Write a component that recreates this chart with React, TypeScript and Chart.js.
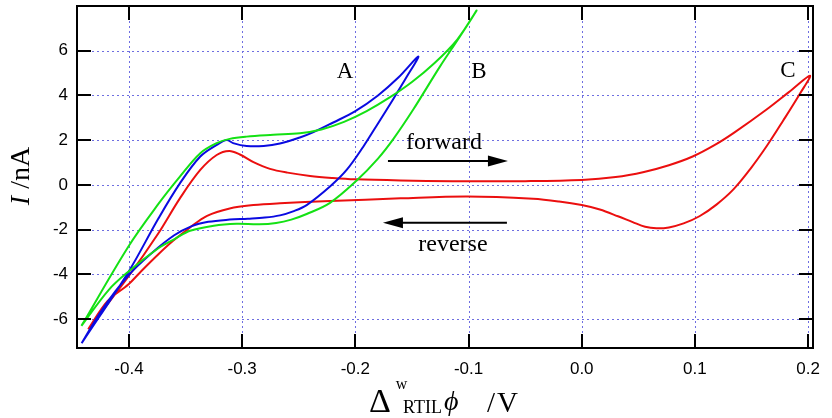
import { useEffect, useRef } from "react";
import { Chart, registerables } from "chart.js";

Chart.register(...registerables);

// Axis ticks
const potentialTicks = [-0.4, -0.3, -0.2, -0.1, 0.0, 0.1, 0.2];
const currentTicks = [-6, -4, -2, 0, 2, 4, 6];

// Scan A (blue): forward to the switching potential, then reverse
const scanA_E = [
  -0.4418, -0.4006, -0.374, -0.355, -0.337, -0.3225, -0.3137, -0.308, -0.296, -0.281, -0.2666, -0.249,
  -0.237, -0.22, -0.2, -0.18, -0.162, -0.1444,
  -0.155, -0.167, -0.18, -0.193, -0.2077, -0.2224, -0.243, -0.255, -0.2666, -0.28, -0.295, -0.311,
  -0.33, -0.345, -0.36, -0.38, -0.4006, -0.424, -0.4418,
];
const scanA_I = [
  -7.08, -3.9, -1.5, 0.07, 1.27, 1.79, 2.01, 1.87, 1.74, 1.74, 1.85, 2.12,
  2.36, 2.78, 3.3, 4.0, 4.8, 5.74,
  4.8, 3.8, 2.75, 1.71, 0.67, -0.07, -0.9, -1.18, -1.36, -1.46, -1.51, -1.55,
  -1.65, -1.85, -2.25, -3.05, -4.05, -5.6, -7.08,
];

// Scan B (green)
const scanB_E = [
  -0.442, -0.4006, -0.374, -0.355, -0.337, -0.3225, -0.311, -0.296, -0.2725, -0.249, -0.23, -0.21,
  -0.19, -0.17, -0.15, -0.13, -0.11, -0.0929,
  -0.1076, -0.1253, -0.149, -0.1665, -0.18, -0.1988, -0.2224, -0.243, -0.2566, -0.27, -0.285, -0.305,
  -0.325, -0.346, -0.359, -0.374, -0.4006, -0.418, -0.442,
];
const scanB_I = [
  -6.3, -2.76, -0.85, 0.37, 1.42, 1.87, 2.06, 2.16, 2.24, 2.31, 2.48, 2.82,
  3.3, 3.9, 4.6, 5.45, 6.5, 7.8,
  6.64, 5.29, 3.36, 2.05, 1.18, 0.2, -0.8, -1.3, -1.55, -1.7, -1.76, -1.74,
  -1.82, -2.05, -2.4, -2.83, -3.88, -4.7, -6.3,
];

// Scan C (red)
const scanC_E = [
  -0.436, -0.4006, -0.374, -0.355, -0.337, -0.3225, -0.3114, -0.302, -0.29, -0.2754, -0.26, -0.24,
  -0.22, -0.2, -0.16, -0.114, -0.05, 0.0, 0.03, 0.055, 0.077, 0.098, 0.118, 0.135, 0.163, 0.183, 0.2016,
  0.193, 0.178, 0.1636, 0.149, 0.134, 0.119, 0.104, 0.09, 0.077, 0.066, 0.056, 0.045, 0.032, 0.016, 0.0,
  -0.02, -0.043, -0.101, -0.16, -0.2224, -0.2666, -0.29, -0.311, -0.331, -0.346, -0.361, -0.374, -0.39,
  -0.4006, -0.419, -0.436,
];
const scanC_I = [
  -6.45, -4.1, -2.16, -0.6, 0.67, 1.34, 1.52, 1.36, 1.02, 0.72, 0.55, 0.4,
  0.31, 0.25, 0.2, 0.17, 0.17, 0.22, 0.35, 0.58, 0.88, 1.27, 1.8, 2.35, 3.36, 4.15, 4.88,
  4.1, 2.88, 1.75, 0.72, -0.2, -0.88, -1.4, -1.72, -1.9, -1.94, -1.87, -1.66, -1.4, -1.1, -0.9,
  -0.74, -0.62, -0.52, -0.6, -0.72, -0.82, -0.9, -1.05, -1.38, -1.9, -2.5, -3.1, -3.9,
  -4.45, -5.2, -6.45,
];

// Text labels placed in data coordinates
const curveLabels = [
  { text: "A", E: -0.2092, I: 5.05 },
  { text: "B", E: -0.0908, I: 5.05 },
  { text: "C", E: 0.1822, I: 5.1 },
  { text: "forward", E: -0.1217, I: 1.9 },
  { text: "reverse", E: -0.1138, I: -2.68 },
];
// Scan direction arrows: [E from, E to, I]
const forwardArrow = [-0.1712, -0.0652, 1.07];
const reverseArrow = [-0.0661, -0.1756, -1.69];

const SERIF = '"Liberation Serif", "Times New Roman", serif';
const SANS = '"Liberation Sans", Arial, sans-serif';

const toPoints = (E: number[], I: number[]) => E.map((e, i) => ({ x: e, y: I[i] }));

const gridPlugin = {
  id: "dottedGrid",
  beforeDatasetsDraw(chart: any) {
    const { ctx, chartArea, scales } = chart;
    const { left, right, top, bottom } = chartArea;
    ctx.save();
    ctx.strokeStyle = "rgb(110,110,225)";
    ctx.lineWidth = 1;
    ctx.setLineDash([2, 3]);
    ctx.beginPath();
    for (const v of potentialTicks) {
      const px = Math.round(scales.x.getPixelForValue(v)) + 0.5;
      ctx.moveTo(px, top);
      ctx.lineTo(px, bottom);
    }
    for (const v of currentTicks) {
      const py = Math.round(scales.y.getPixelForValue(v)) + 0.5;
      ctx.moveTo(left, py);
      ctx.lineTo(right, py);
    }
    ctx.stroke();
    ctx.restore();
  },
};

function drawArrow(ctx: CanvasRenderingContext2D, x1: number, x2: number, y: number) {
  const dir = Math.sign(x2 - x1);
  const headLen = 20;
  ctx.beginPath();
  ctx.moveTo(x1, y);
  ctx.lineTo(x2 - dir * headLen * 0.8, y);
  ctx.stroke();
  ctx.beginPath();
  ctx.moveTo(x2, y);
  ctx.lineTo(x2 - dir * headLen, y - 5.5);
  ctx.lineTo(x2 - dir * headLen, y + 5.5);
  ctx.closePath();
  ctx.fill();
}

const framePlugin = {
  id: "frameAndText",
  afterDraw(chart: any) {
    const { ctx, chartArea, scales } = chart;
    const { left, right, top, bottom } = chartArea;
    const sx = scales.x;
    const sy = scales.y;
    ctx.save();
    ctx.strokeStyle = "#000";
    ctx.fillStyle = "#000";
    ctx.lineWidth = 2;
    ctx.setLineDash([]);
    ctx.strokeRect(left, top, right - left, bottom - top);

    // inward ticks on all four sides
    const len = 14;
    ctx.beginPath();
    for (const v of potentialTicks) {
      const px = Math.round(sx.getPixelForValue(v));
      ctx.moveTo(px, bottom);
      ctx.lineTo(px, bottom - len);
      ctx.moveTo(px, top);
      ctx.lineTo(px, top + len);
    }
    for (const v of currentTicks) {
      const py = Math.round(sy.getPixelForValue(v));
      ctx.moveTo(left, py);
      ctx.lineTo(left + len, py);
      ctx.moveTo(right, py);
      ctx.lineTo(right - len, py);
    }
    ctx.stroke();

    // curve labels
    ctx.textAlign = "center";
    ctx.textBaseline = "middle";
    for (const l of curveLabels) {
      ctx.font = l.text.length > 1 ? `24px ${SERIF}` : `23px ${SERIF}`;
      ctx.fillText(l.text, sx.getPixelForValue(l.E), sy.getPixelForValue(l.I));
    }

    // direction arrows
    ctx.lineWidth = 2;
    drawArrow(ctx, sx.getPixelForValue(forwardArrow[0]), sx.getPixelForValue(forwardArrow[1]), sy.getPixelForValue(forwardArrow[2]));
    drawArrow(ctx, sx.getPixelForValue(reverseArrow[0]), sx.getPixelForValue(reverseArrow[1]), sy.getPixelForValue(reverseArrow[2]));

    // x-axis title: Δ^w_RTIL ϕ / V
    ctx.textAlign = "left";
    ctx.textBaseline = "alphabetic";
    const base = 412;
    let cx = 369;
    ctx.font = `34px ${SERIF}`;
    ctx.fillText("Δ", cx, base);
    cx += ctx.measureText("Δ").width + 5;
    ctx.font = `16px ${SERIF}`;
    ctx.fillText("w", cx, base - 23);
    cx = 403;
    ctx.font = `18px ${SERIF}`;
    ctx.fillText("RTIL", cx, base + 1);
    cx += ctx.measureText("RTIL").width + 2;
    ctx.font = `italic 28px ${SERIF}`;
    ctx.fillText("ϕ", cx, base - 2);
    cx = 487;
    ctx.font = `29px ${SERIF}`;
    ctx.fillText("/", cx, base);
    cx += ctx.measureText("/").width + 2;
    ctx.fillText("V", cx, base);

    // y-axis title: I /nA
    ctx.translate(29, 176);
    ctx.rotate(-Math.PI / 2);
    const fs = 28;
    ctx.font = `italic ${fs}px ${SERIF}`;
    const wI = ctx.measureText("I").width;
    ctx.font = `${fs}px ${SERIF}`;
    const rest = " /nA";
    const wR = ctx.measureText(rest).width;
    const start = -(wI + wR) / 2;
    ctx.font = `italic ${fs}px ${SERIF}`;
    ctx.fillText("I", start, 0);
    ctx.font = `${fs}px ${SERIF}`;
    ctx.fillText(rest, start + wI, 0);

    ctx.restore();
  },
};

export default function App() {
  const canvasRef = useRef<HTMLCanvasElement | null>(null);

  useEffect(() => {
    const canvas = canvasRef.current;
    if (!canvas) return;
    const line = (E: number[], I: number[], color: string) => ({
      data: toPoints(E, I),
      borderColor: color,
      backgroundColor: color,
      borderWidth: 2,
      pointRadius: 0,
      showLine: true,
      tension: 0.35,
      fill: false,
    });
    const chart = new Chart(canvas, {
      type: "scatter",
      data: {
        datasets: [
          line(scanB_E, scanB_I, "rgb(20,225,20)"),
          line(scanA_E, scanA_I, "rgb(10,10,225)"),
          line(scanC_E, scanC_I, "rgb(235,15,15)"),
        ],
      },
      options: {
        responsive: false,
        animation: false,
        events: [],
        layout: { padding: { left: 0, right: 19, top: 6, bottom: 0 } },
        plugins: { legend: { display: false }, tooltip: { enabled: false }, title: { display: false } },
        scales: {
          x: {
            type: "linear",
            min: -0.4459,
            max: 0.2043,
            afterBuildTicks: (s: any) => {
              s.ticks = potentialTicks.map((v) => ({ value: v }));
            },
            afterFit: (s: any) => {
              s.height = 70;
              s.paddingLeft = 0;
              s.paddingRight = 0;
            },
            grid: { display: false, drawTicks: false },
            border: { display: false },
            ticks: {
              padding: 11,
              color: "#000",
              font: { family: SANS, size: 17 },
              maxRotation: 0,
              autoSkip: false,
              callback: (v: any) => Number(v).toFixed(1),
            },
          },
          y: {
            type: "linear",
            min: -7.29,
            max: 8.0,
            afterBuildTicks: (s: any) => {
              s.ticks = currentTicks.map((v) => ({ value: v }));
            },
            afterFit: (s: any) => {
              s.width = 77;
              s.paddingTop = 0;
              s.paddingBottom = 0;
            },
            grid: { display: false, drawTicks: false },
            border: { display: false },
            ticks: {
              padding: 9,
              color: "#000",
              font: { family: SANS, size: 17 },
              autoSkip: false,
              callback: (v: any) => String(v),
            },
          },
        },
      },
      plugins: [gridPlugin, framePlugin],
    });
    return () => chart.destroy();
  }, []);

  return (
    <div style={{ position: "absolute", left: 0, top: 0, width: 832, height: 418, background: "#fff" }}>
      <canvas ref={canvasRef} width={832} height={418} style={{ display: "block" }} />
    </div>
  );
}
